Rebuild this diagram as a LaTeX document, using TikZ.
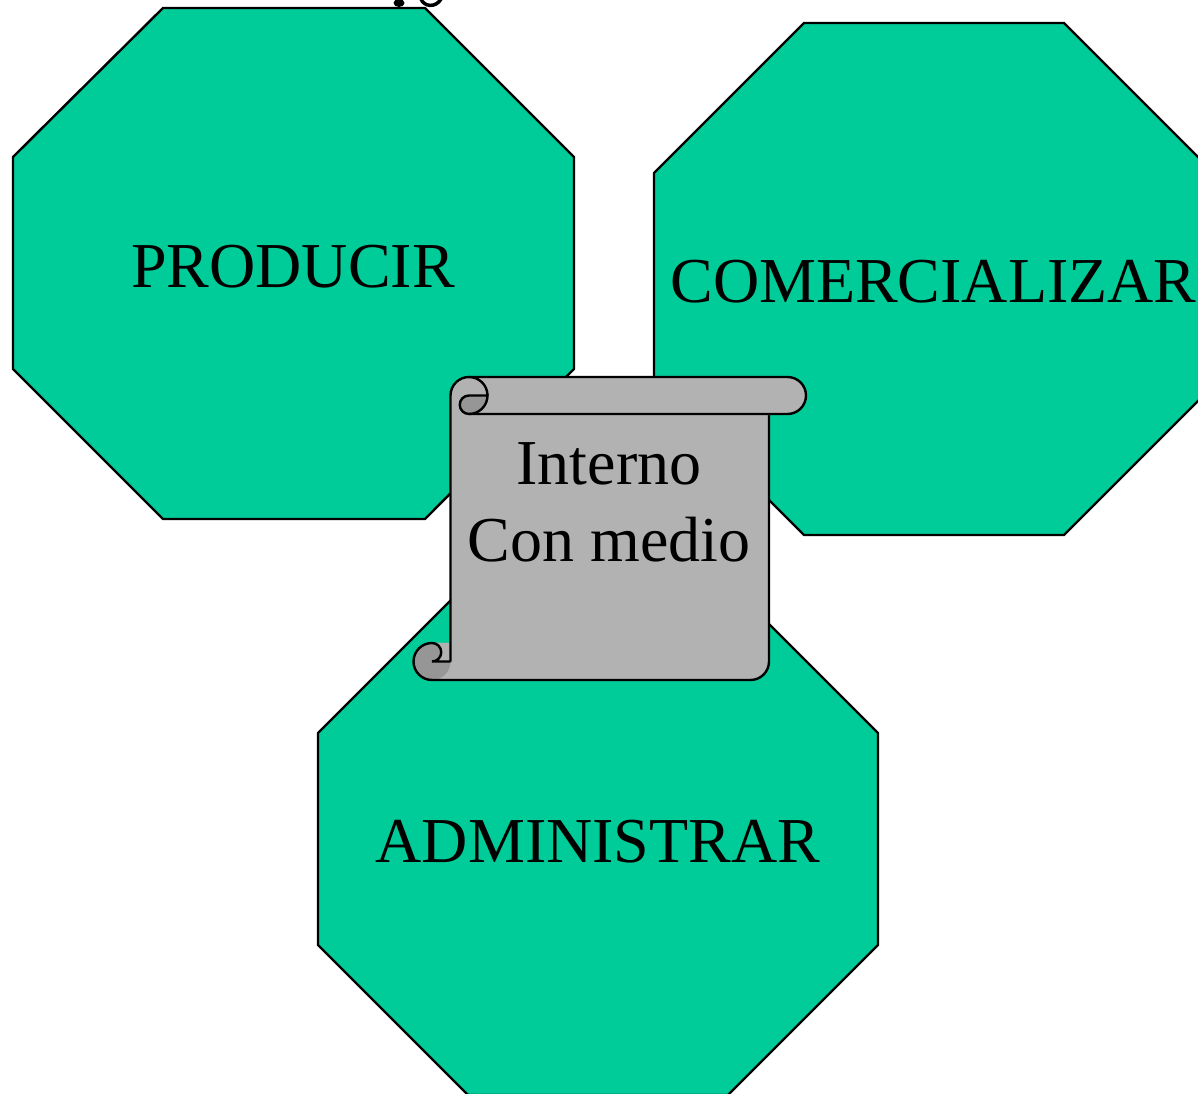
\documentclass[tikz,border=0pt]{standalone}
\usepackage{fontspec}
\setmainfont{Liberation Serif}
\definecolor{octgreen}{HTML}{00CC99}
\definecolor{scrolllight}{HTML}{B2B2B2}
\definecolor{scrolldark}{HTML}{969696}
\tikzset{
  octa/.style={fill=octgreen, draw=black, line width=2.4pt, line join=miter},
  lbl/.style={anchor=base, inner sep=0pt, font=\fontsize{64}{77}\selectfont},
  scrollline/.style={draw=black, line width=2.4pt},
}
\begin{document}
\begin{tikzpicture}[x=1pt,y=1pt]
\useasboundingbox (0,0) rectangle (1198,1093);
% fragment of cut-off title glyph
\fill[black] (399,1090) ellipse[x radius=5.5pt, y radius=4pt];
\draw[line width=3.5pt] (421,1094) .. controls (424,1086) and (436,1085) .. (441,1094);
% octagons
\path[octa] (163,1085) -- (425,1085) -- (574,936) -- (574,724) -- (425,574) -- (163,574) -- (13,724) -- (13,936) -- cycle;
\path[octa] (804,1070) -- (1064,1070) -- (1214,920) -- (1214,708) -- (1064,558) -- (804,558) -- (654,708) -- (654,920) -- cycle;
\path[octa] (468,510) -- (728,510) -- (878,360) -- (878,148) -- (728,-2) -- (468,-2) -- (318,148) -- (318,360) -- cycle;
\node[lbl] (prod) at (293,805) {PRODUCIR};
\node[lbl] (com) at (933.5,790) {COMERCIALIZAR};
\node[lbl] (adm) at (598,231) {ADMINISTRAR};
% scroll
\fill[scrolllight] (469,716) -- (787.5,716) arc[start angle=90,end angle=-90,radius=18.5pt] -- (769,679) -- (769,431.5) arc[start angle=0,end angle=-90,radius=18.5pt] -- (432,413) arc[start angle=-90,end angle=-270,radius=18.5pt] -- (450.5,450) -- (450.5,697.5) arc[start angle=180,end angle=90,radius=18.5pt] -- cycle;
\fill[scrolldark] (432,431.5) circle[radius=18.5pt];
\fill[scrolllight] (432,450) -- (450.5,450) -- (450.5,431.5) -- (432,431.5) arc[start angle=-90,end angle=90,radius=9.25pt] -- cycle;
\path[fill=scrolldark, scrollline] (469,697.5) -- (487.5,697.5) arc[start angle=0,end angle=-90,radius=18.5pt] arc[start angle=-90,end angle=-270,radius=9.25pt] -- cycle;
\path[scrollline] (469,716) arc[start angle=90,end angle=0,radius=18.5pt];
\path[scrollline] (450.5,431.5) -- (450.5,697.5) arc[start angle=180,end angle=90,radius=18.5pt] -- (787.5,716) arc[start angle=90,end angle=-90,radius=18.5pt] -- (469,679);
\path[scrollline] (769,679) -- (769,431.5) arc[start angle=0,end angle=-90,radius=18.5pt] -- (432,413) arc[start angle=-90,end angle=-270,radius=18.5pt] arc[start angle=90,end angle=-90,radius=9.25pt] -- (450.5,431.5);
\node[lbl] (interno) at (609,608) {Interno};
\node[lbl] (conmedio) at (609,531) {Con medio};
\end{tikzpicture}
\end{document}
